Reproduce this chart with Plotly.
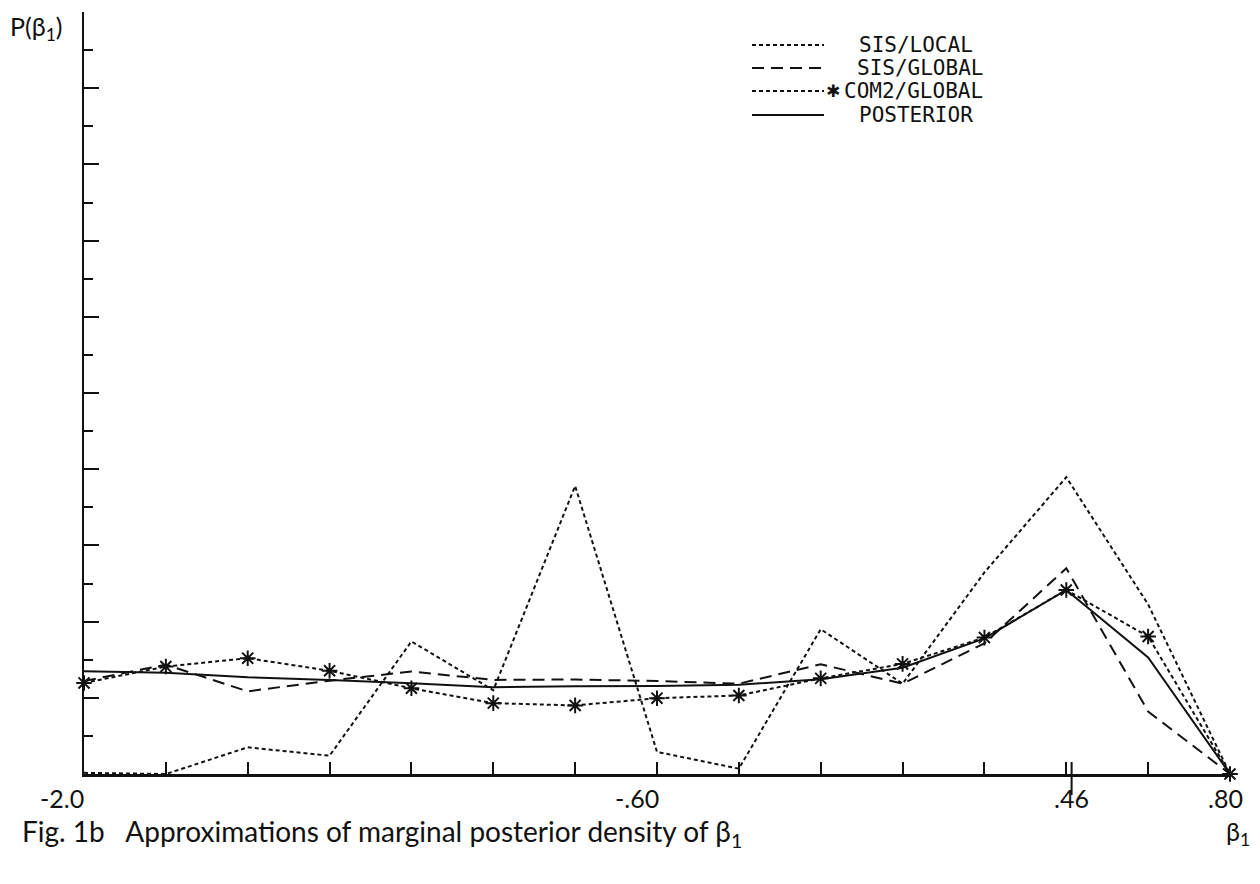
import plotly.graph_objects as go

# ---- data ----
beta1 = [-2.0, -1.8, -1.6, -1.4, -1.2, -1.0, -0.8, -0.6, -0.4, -0.2, 0.0, 0.2, 0.4, 0.6, 0.8]
sis_local = [0.03, 0.0, 0.70, 0.48, 3.48, 2.20, 7.56, 0.58, 0.14, 3.80, 2.37, 5.29, 7.79, 4.45, 0.0]
sis_global = [2.44, 2.87, 2.17, 2.45, 2.69, 2.47, 2.48, 2.44, 2.37, 2.88, 2.37, 3.43, 5.40, 1.64, 0.0]
com2_global = [2.39, 2.82, 3.04, 2.71, 2.25, 1.86, 1.80, 1.99, 2.06, 2.51, 2.89, 3.58, 4.83, 3.61, 0.0]
posterior = [2.70, 2.66, 2.54, 2.47, 2.38, 2.28, 2.30, 2.31, 2.34, 2.49, 2.79, 3.56, 4.83, 3.06, 0.0]

x_label_vals = [-2.0, -0.6, 0.413, 0.8]
x_label_text = ["-2.0", "-.60", ".46", ".80"]
legend_names = ["SIS/LOCAL", "SIS/GLOBAL", "COM2/GLOBAL", "POSTERIOR"]

INK = "#111111"
SHORT = "4px,3px"
LONG = "12px,7px"

# ---- layout (page has an 8px body margin) ----
OFF = 8
W, H = 1252, 876
PLOT_L, PLOT_R, PLOT_T, PLOT_B = 84, 1230, 12, 774  # page pixels of plot area
L = PLOT_L - OFF
T = PLOT_T - OFF
R = W - (PLOT_R - OFF)
B = H - (PLOT_B - OFF)
PW, PH = PLOT_R - PLOT_L, PLOT_B - PLOT_T


def px(p):
    return (p - PLOT_L) / PW


def py(p):
    return (PLOT_B - p) / PH


fig = go.Figure()
fig.add_trace(go.Scatter(x=beta1, y=sis_local, mode="lines", name=legend_names[0],
                         line=dict(color=INK, width=2, dash=SHORT), cliponaxis=False))
fig.add_trace(go.Scatter(x=beta1, y=sis_global, mode="lines", name=legend_names[1],
                         line=dict(color=INK, width=2, dash=LONG), cliponaxis=False))
fig.add_trace(go.Scatter(x=beta1, y=com2_global, mode="lines+markers", name=legend_names[2],
                         line=dict(color=INK, width=2, dash=SHORT),
                         marker=dict(symbol="asterisk-open", size=13, color=INK,
                                     line=dict(color=INK, width=2)),
                         cliponaxis=False))
fig.add_trace(go.Scatter(x=beta1, y=posterior, mode="lines", name=legend_names[3],
                         line=dict(color=INK, width=2), cliponaxis=False))

shapes = []
# special long tick at .46 (extends below axis)
shapes.append(dict(type="line", xref="x", yref="paper", x0=x_label_vals[2], x1=x_label_vals[2],
                   y0=py(762), y1=py(795), line=dict(color=INK, width=2)))

# custom legend
rows = [45, 68, 91, 115]
dashes = [SHORT, LONG, SHORT, "solid"]
for r, d in zip(rows, dashes):
    shapes.append(dict(type="line", xref="paper", yref="paper", x0=px(752), x1=px(824),
                       y0=py(r), y1=py(r), line=dict(color=INK, width=2, dash=d)))

annotations = []
text_x = [857, 855, 842, 857]
for r, tx, name in zip(rows, text_x, legend_names):
    annotations.append(dict(xref="paper", yref="paper", x=px(tx), y=py(r), text=name,
                            xanchor="left", yanchor="middle", showarrow=False,
                            font=dict(family="DejaVu Sans Mono", size=21, color=INK)))
annotations.append(dict(xref="paper", yref="paper", x=px(833), y=py(rows[2]), text="✱",
                        xanchor="center", yanchor="middle", showarrow=False,
                        font=dict(family="DejaVu Sans", size=17, color=INK)))

# x tick labels
tick_font = dict(family="Lato", size=25, color=INK)
anchors = ["right", "right", "center", "center"]
shifts = [2, 4, 0, -5]
for v, t, a, s in zip(x_label_vals, x_label_text, anchors, shifts):
    annotations.append(dict(xref="x", yref="paper", x=v, y=py(798), text=t, xanchor=a,
                            yanchor="middle", xshift=s, showarrow=False, font=tick_font))

# axis titles and caption
title_font = dict(family="Lato", size=25, color=INK)
cap_font = dict(family="Lato", size=28, color=INK)
annotations.append(dict(xref="paper", yref="paper", x=px(64), y=py(9), text="P(β<sub>1</sub>)",
                        xanchor="right", yanchor="top", showarrow=False, font=title_font))
annotations.append(dict(xref="paper", yref="paper", x=px(1252), y=py(833), text="β<sub>1</sub>",
                        xanchor="right", yanchor="middle", showarrow=False, font=title_font))
annotations.append(dict(xref="paper", yref="paper", x=px(20), y=py(833),
                        text="Fig. 1b   Approximations of marginal posterior density of β<sub>1</sub>",
                        xanchor="left", yanchor="middle", showarrow=False, font=cap_font))

fig.update_layout(
    width=W, height=H,
    margin=dict(l=L, r=R, t=T, b=B),
    paper_bgcolor="white", plot_bgcolor="white",
    showlegend=False,
    shapes=shapes, annotations=annotations,
    xaxis=dict(range=[-2.0, 0.8], showline=True, linecolor=INK, linewidth=2.5,
               ticks="inside", tickmode="array", tickvals=beta1, ticklen=12, tickwidth=2,
               tickcolor=INK, showticklabels=False, showgrid=False, zeroline=False),
    yaxis=dict(range=[0, 20], showline=True, linecolor=INK, linewidth=2,
               ticks="inside", tick0=0, dtick=2, ticklen=15, tickwidth=2, tickcolor=INK,
               minor=dict(ticks="inside", dtick=1, ticklen=9, tickwidth=2, tickcolor=INK),
               showticklabels=False, showgrid=False, zeroline=False),
)

fig.write_html("out.html")
